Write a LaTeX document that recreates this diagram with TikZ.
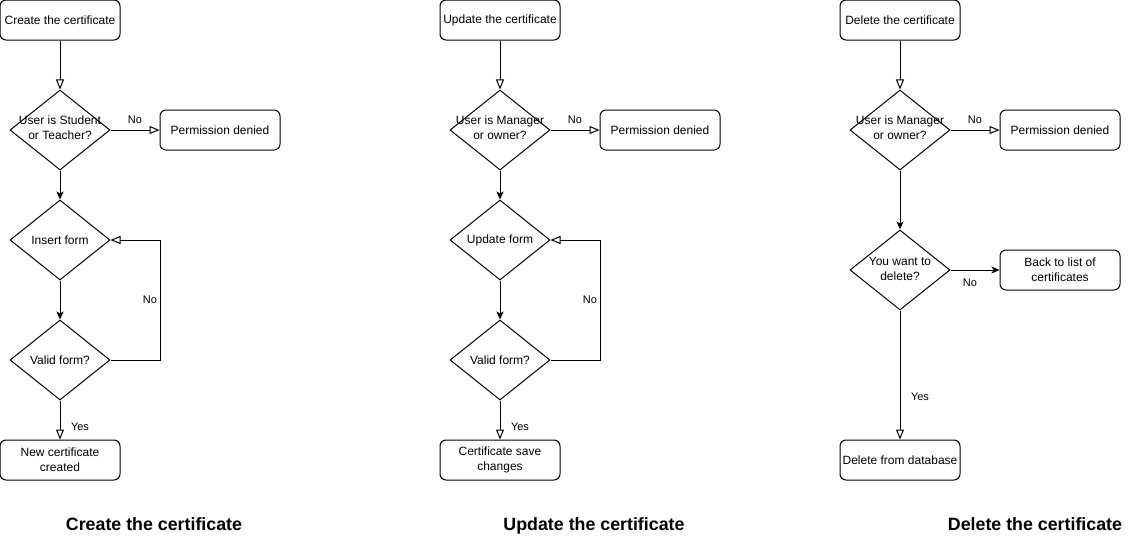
\documentclass[tikz,border=0pt]{standalone}
\usepackage{fontspec}
\setmainfont{Liberation Sans}
\usetikzlibrary{arrows.meta,shapes.geometric}
\tikzset{
  box/.style={draw, line width=1pt, rounded corners=6pt, minimum width=120pt, minimum height=40pt, inner sep=1pt, align=center, font=\fontsize{12}{15}\selectfont},
  decision/.style={draw, diamond, line width=1pt, minimum width=100pt, minimum height=80pt, inner sep=0pt},
  dtext/.style={align=center, inner sep=0pt, font=\fontsize{12}{15}\selectfont},
  tag/.style={inner sep=1pt, font=\fontsize{11}{13}\selectfont},
  heading/.style={anchor=base, font=\bfseries\fontsize{17.8}{20}\selectfont},
  hollowflow/.style={line width=1pt, -{Triangle[open, length=10pt, width=8pt]}},
  flow/.style={line width=1pt, -{Stealth[length=8pt, width=7pt, inset=2pt]}}
}

\begin{document}
\begin{tikzpicture}[x=1pt, y=-1pt]
			%%%%% START %%%%%
			\useasboundingbox (0,0) rectangle (1136,546);
			
			% create
			\node[box] (cstart) at (60,20) {Create the certificate};
			\node[decision] (cuser) at (60,130) {};
			\node[dtext] (cusert) at (60,128) {User is Student\\or Teacher?};
			\node[box] (cdenied) at (220,130) {Permission denied};
			\node[decision] (cform) at (60,240) {};
			\node[dtext] (cformt) at (cform) {Insert form};
			\node[decision] (cvalid) at (60,360) {};
			\node[dtext] (cvalidt) at (cvalid) {Valid form?};
			\node[box] (cdone) at (60,460) {New certificate\\created};
			
			\draw[hollowflow] (cstart) -- (cuser);
			\draw[hollowflow] (cuser) -- (cdenied);
			\draw[flow] (cuser) -- (cform);
			\draw[flow] (cform) -- (cvalid);
			\draw[hollowflow] (cvalid.east) -- ++(50,0) |- (cform.east);
			\draw[hollowflow] (cvalid) -- (cdone);
			\node[tag] (cno1) at (135,120) {No};
			\node[tag] (cno2) at (150,300) {No};
			\node[tag] (cyes) at (80,427) {Yes};
			
			% update
			\node[box] (ustart) at (500,20) {Update the certificate};
			\node[decision] (uuser) at (500,130) {};
			\node[dtext] (uusert) at (500,128) {User is Manager\\or owner?};
			\node[box] (udenied) at (660,130) {Permission denied};
			\node[decision] (uform) at (500,240) {};
			\node[dtext] (uformt) at (uform) {Update form};
			\node[decision] (uvalid) at (500,360) {};
			\node[dtext] (uvalidt) at (uvalid) {Valid form?};
			\node[box] (udone) at (500,460) {Certificate save\\changes};
			
			\draw[hollowflow] (ustart) -- (uuser);
			\draw[hollowflow] (uuser) -- (udenied);
			\draw[flow] (uuser) -- (uform);
			\draw[flow] (uform) -- (uvalid);
			\draw[hollowflow] (uvalid.east) -- ++(50,0) |- (uform.east);
			\draw[hollowflow] (uvalid) -- (udone);
			\node[tag] (uno1) at (575,120) {No};
			\node[tag] (uno2) at (590,300) {No};
			\node[tag] (uyes) at (520,427) {Yes};
			
			% delete
			\node[box] (dstart) at (900,20) {Delete the certificate};
			\node[decision] (duser) at (900,130) {};
			\node[dtext] (dusert) at (900,128) {User is Manager\\or owner?};
			\node[box] (ddenied) at (1060,130) {Permission denied};
			\node[decision] (dask) at (900,270) {};
			\node[dtext] (daskt) at (900,269) {You want to\\delete?};
			\node[box] (dback) at (1060,270) {Back to list of\\certificates};
			\node[box] (ddone) at (900,460) {Delete from database};
			
			\draw[hollowflow] (dstart) -- (duser);
			\draw[hollowflow] (duser) -- (ddenied);
			\draw[flow] (duser) -- (dask);
			\draw[flow] (dask) -- (dback);
			\draw[hollowflow] (dask) -- (ddone);
			\node[tag] (dno1) at (975,120) {No};
			\node[tag] (dno2) at (970,283) {No};
			\node[tag] (dyes) at (920,397) {Yes};
			
			% titles
			\node[heading] (ctitle) at (154,530) {Create the certificate};
			\node[heading] (utitle) at (594,530) {Update the certificate};
			\node[heading] (dtitle) at (1035,530) {Delete the certificate};
			
			%%%%% END %%%%%
		\end{tikzpicture}
\end{document}
